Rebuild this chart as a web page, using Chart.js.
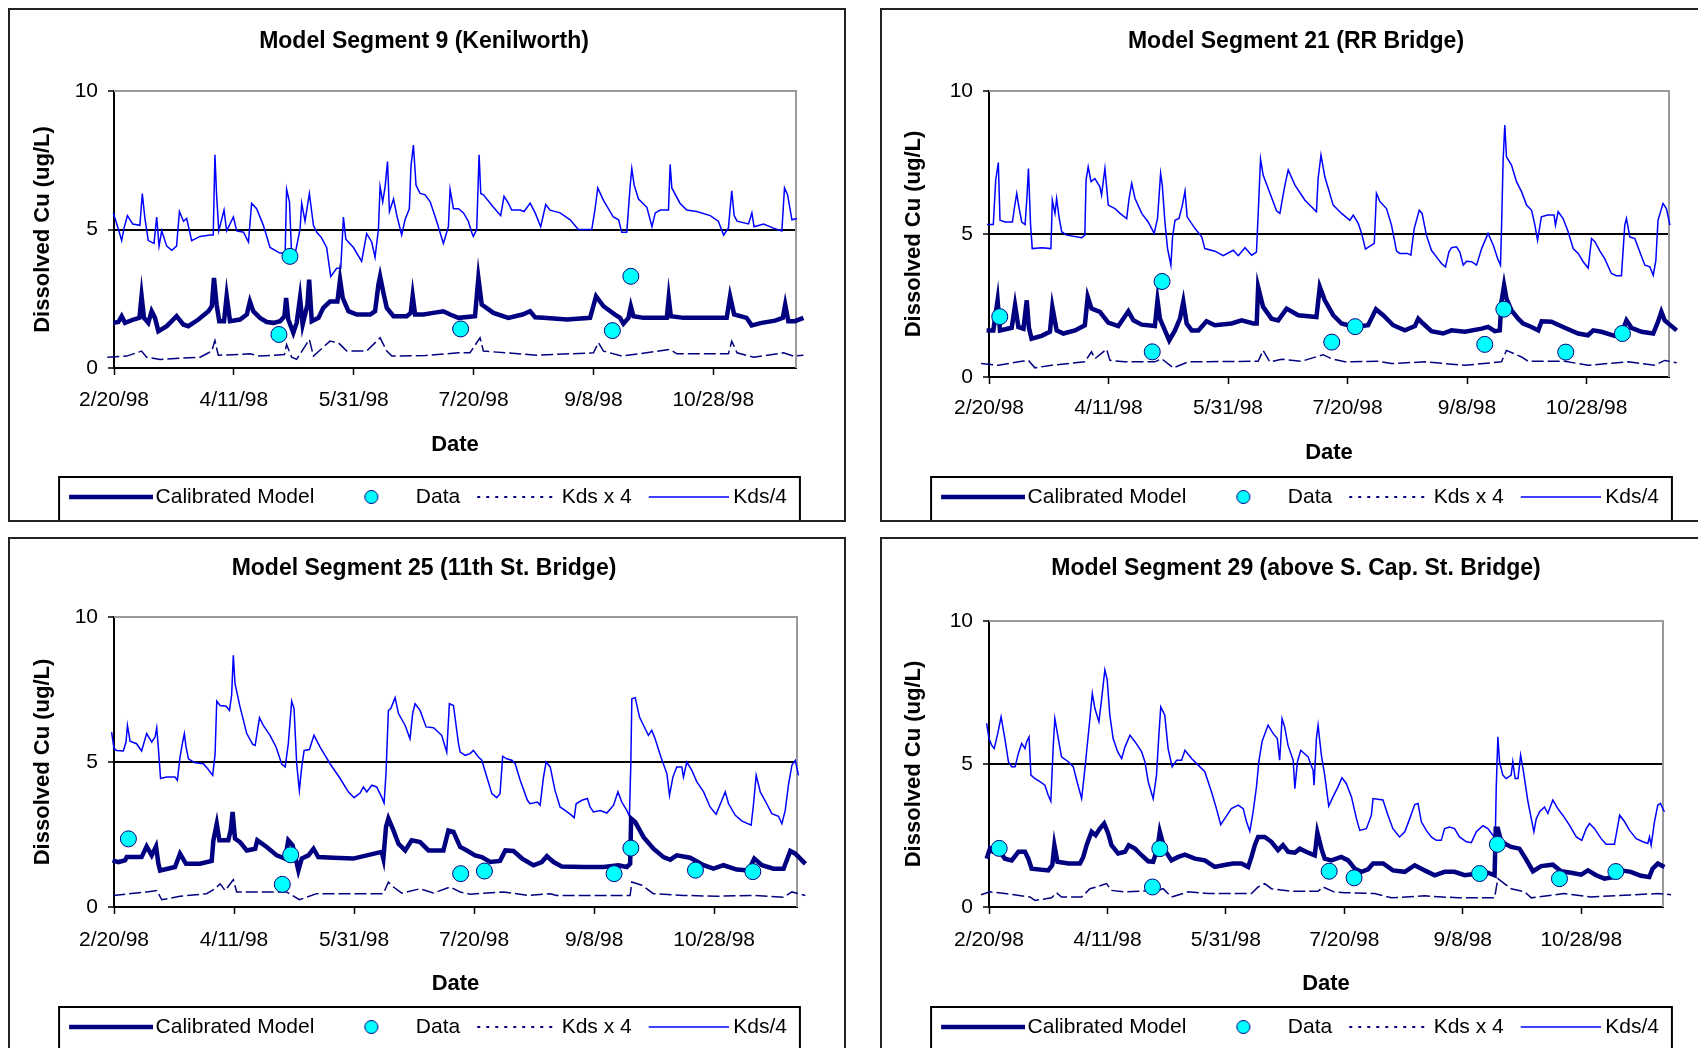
<!DOCTYPE html>
<html lang="en">
<head>
  <meta charset="UTF-8">
  <title>Dissolved Cu - Model Segments</title>
  <script src="https://cdn.jsdelivr.net/npm/chart.js"></script>
  <style>
    body { margin: 0; width: 1698px; height: 1048px; overflow: hidden; background: #fff; position: relative; }
    .panel { position: absolute; width: 838px; height: 514px; border: 2px solid #222; box-sizing: border-box; background: #fff; }
    canvas { display: block; }
  </style>
</head>
<body>
<div class="panel" style="left:8px;top:8px"><canvas id="c9" width="834" height="510"></canvas></div>
<div class="panel" style="left:880px;top:8px"><canvas id="c21" width="834" height="510"></canvas></div>
<div class="panel" style="left:8px;top:537px"><canvas id="c25" width="834" height="510"></canvas></div>
<div class="panel" style="left:880px;top:537px"><canvas id="c29" width="834" height="510"></canvas></div>

<script>
  // x = days after 2/20/98, y = dissolved Cu (ug/L)
  const tickDays = [0, 50, 100, 150, 200, 250];
  const tickLabels = ['2/20/98', '4/11/98', '5/31/98', '7/20/98', '9/8/98', '10/28/98'];

  // Segment 9 (Kenilworth)
  const seg9Data = [[68.8,1.21],[73.4,4.03],[144.6,1.41],[207.9,1.35],[215.6,3.31]];
  const seg9Model = [[-2.8,1.69],[-1.7,1.87],[-0.3,1.63],[1.8,1.66],[3.2,1.87],[4.6,1.63],[8.1,1.75],[10.6,1.81],[11.5,2.6],[12.5,1.81],[14.3,1.63],[15.7,2.05],[17.1,1.81],[18.5,1.33],[22.0,1.51],[26.1,1.87],[28.9,1.57],[31.0,1.51],[35.2,1.75],[39.4,2.05],[40.8,2.23],[41.7,3.25],[42.8,2.29],[43.9,1.69],[45.9,1.69],[47.0,2.6],[48.4,1.69],[52.6,1.75],[55.4,1.93],[56.7,2.4],[58.1,2.05],[60.9,1.81],[63.7,1.66],[66.5,1.63],[69.3,1.69],[71.1,1.87],[71.8,2.53],[72.7,1.75],[74.8,1.27],[76.2,1.63],[77.6,2.53],[78.7,1.57],[80.7,2.29],[81.4,3.19],[82.5,1.69],[85.3,1.81],[87.3,2.17],[90.1,2.4],[93.2,2.4],[94.3,3.19],[95.4,2.53],[97.8,2.05],[101.3,1.93],[106.9,1.93],[108.9,2.05],[110.3,3.01],[111.0,3.31],[112.4,2.71],[113.8,2.17],[116.6,1.87],[122.1,1.87],[123.8,1.99],[124.6,2.6],[125.6,1.93],[129.1,1.93],[133.2,1.99],[137.4,2.05],[140.2,1.93],[143.7,1.81],[150.6,1.87],[152.0,3.25],[153.4,2.29],[158.3,1.99],[164.5,1.81],[170.4,1.93],[173.6,2.05],[175.7,1.83],[179.2,1.81],[189.0,1.75],[198.6,1.81],[201.1,2.59],[204.2,2.23],[209.0,1.93],[211.1,1.81],[212.5,1.6],[214.6,1.81],[215.6,2.23],[216.7,1.87],[220.9,1.81],[230.6,1.81],[231.4,2.53],[232.3,1.87],[237.6,1.81],[255.6,1.81],[257.0,2.59],[258.7,1.93],[263.9,1.81],[266.0,1.54],[270.2,1.63],[275.8,1.71],[279.0,1.81],[280.0,2.29],[281.3,1.69],[284.1,1.69],[287.6,1.81]];
  const seg9KdsX4 = [[-2.8,0.39],[5.3,0.43],[11.5,0.61],[13.6,0.39],[19.2,0.31],[35.9,0.39],[40.8,0.61],[42.1,0.99],[43.5,0.46],[56.7,0.51],[60.9,0.43],[71.1,0.49],[72.0,0.85],[74.1,0.39],[76.2,0.31],[81.5,1.03],[83.2,0.43],[90.1,0.97],[93.6,0.91],[97.1,0.61],[105.4,0.61],[111.0,1.09],[113.8,0.61],[115.9,0.43],[130.0,0.45],[143.7,0.55],[148.5,0.55],[152.7,1.09],[154.1,0.61],[176.3,0.46],[200.0,0.55],[202.1,0.91],[204.2,0.61],[211.8,0.43],[232.0,0.67],[234.8,0.51],[256.3,0.51],[257.7,0.97],[259.9,0.55],[266.9,0.39],[279.3,0.55],[283.5,0.43],[287.6,0.46]];
  const seg9KdsDiv4 = [[-2.8,5.0],[-1.4,6.0],[-0.3,5.6],[0.8,5.3],[2.2,4.9],[3.2,4.6],[4.2,5.05],[5.6,5.5],[6.7,5.35],[7.8,5.2],[10.8,5.15],[11.8,6.3],[12.9,5.4],[14.3,4.6],[16.7,4.5],[17.8,5.45],[18.8,4.4],[19.9,4.95],[22.0,4.4],[24.1,4.25],[26.1,4.4],[27.3,5.65],[29.0,5.3],[30.3,5.4],[32.4,4.6],[35.9,4.75],[40.1,4.8],[41.4,4.8],[42.1,7.7],[42.8,6.25],[43.7,4.95],[45.9,5.7],[47.0,4.95],[49.8,5.45],[51.2,4.95],[54.0,4.9],[56.1,4.55],[57.4,5.95],[59.5,5.75],[62.3,5.15],[65.1,4.35],[69.2,4.15],[71.4,4.15],[72.0,6.45],[73.2,6.0],[74.1,4.1],[75.5,4.1],[77.6,5.0],[78.3,5.95],[79.7,5.3],[81.5,6.3],[83.2,5.15],[84.6,4.9],[86.6,4.7],[88.7,4.35],[90.4,3.3],[92.9,3.6],[94.6,3.6],[95.7,5.45],[96.7,4.65],[99.9,4.35],[103.3,3.85],[105.4,4.85],[107.5,4.55],[108.9,4.0],[110.3,5.0],[111.0,6.55],[112.1,6.0],[113.1,6.55],[114.1,7.45],[114.9,5.65],[116.6,6.1],[118.0,5.5],[120.0,4.8],[121.4,5.35],[123.2,5.75],[123.9,7.3],[124.9,8.05],[126.0,6.6],[127.7,6.3],[129.8,6.25],[131.9,6.0],[134.6,5.3],[137.4,4.5],[139.5,5.1],[140.2,6.45],[141.6,5.75],[143.7,5.75],[145.8,5.6],[147.8,5.3],[149.2,4.9],[149.9,4.75],[151.3,5.0],[152.3,7.7],[153.0,6.3],[154.1,6.25],[158.3,5.8],[161.3,5.5],[162.7,6.2],[164.5,5.95],[165.9,5.7],[169.4,5.7],[171.1,5.65],[173.6,5.95],[175.7,5.6],[178.0,5.1],[180.1,5.9],[181.9,5.7],[186.1,5.6],[190.3,5.35],[193.7,5.0],[199.3,5.0],[200.7,5.75],[201.8,6.5],[204.2,6.05],[208.3,5.45],[210.5,5.35],[211.8,4.9],[213.9,4.9],[215.3,6.55],[216.0,7.2],[217.0,6.6],[218.8,6.1],[222.3,5.8],[224.4,5.1],[225.8,5.6],[227.9,5.7],[231.3,5.7],[232.0,7.35],[232.7,6.5],[236.1,5.95],[238.9,5.7],[243.1,5.65],[248.7,5.5],[252.1,5.3],[254.3,4.8],[256.3,5.05],[257.7,6.4],[258.7,5.5],[259.9,5.3],[264.7,5.2],[266.1,5.6],[267.0,5.1],[271.0,5.2],[275.1,5.05],[278.6,4.95],[279.7,6.5],[281.0,6.25],[282.8,5.35],[284.9,5.4],[288.3,5.45]];

  // Segment 21 (RR Bridge)
  const seg21Data = [[4.5,2.11],[68.3,0.88],[72.4,3.34],[143.4,1.22],[153.2,1.76],[207.4,1.14],[215.4,2.37],[241.3,0.87],[265.0,1.52]];
  const seg21Model = [[-3.3,1.87],[-2.4,2.16],[-1.0,1.63],[1.8,1.63],[3.6,2.68],[4.6,1.63],[9.5,1.72],[10.9,2.51],[12.3,1.75],[14.4,1.69],[15.8,2.68],[16.7,1.72],[17.8,1.34],[22.0,1.44],[25.5,1.58],[26.5,2.45],[28.3,1.63],[31.1,1.52],[36.0,1.63],[40.1,1.81],[41.3,2.8],[42.9,2.39],[46.4,2.28],[49.9,1.9],[54.1,1.78],[56.2,2.04],[58.3,2.3],[60.4,1.98],[63.9,1.83],[69.4,1.78],[70.5,2.68],[71.5,2.04],[73.6,1.63],[75.4,1.28],[77.8,1.63],[79.9,2.04],[81.3,2.63],[82.7,1.87],[84.8,1.63],[87.6,1.63],[91.0,1.95],[94.5,1.81],[101.5,1.87],[105.7,1.98],[110.6,1.87],[112.0,1.87],[112.6,3.15],[114.7,2.45],[118.2,2.04],[121.0,1.98],[124.5,2.39],[129.4,2.16],[137.0,2.1],[138.4,3.15],[140.5,2.68],[144.0,2.16],[147.5,1.87],[153.0,1.75],[158.6,1.81],[161.9,2.37],[164.9,2.16],[169.1,1.81],[174.0,1.63],[178.2,1.78],[179.6,2.04],[181.6,1.87],[185.1,1.6],[190.0,1.52],[193.5,1.63],[199.1,1.58],[206.1,1.69],[208.8,1.75],[211.6,1.6],[213.7,1.63],[214.4,2.63],[215.5,3.21],[216.5,2.74],[218.6,2.33],[221.4,2.04],[223.5,1.87],[227.0,1.75],[229.8,1.63],[231.2,1.95],[235.3,1.93],[240.9,1.72],[246.5,1.52],[250.6,1.46],[252.8,1.63],[256.2,1.58],[261.8,1.44],[264.6,1.52],[266.7,1.98],[268.8,1.72],[273.0,1.58],[277.9,1.52],[279.9,1.93],[281.3,2.28],[282.7,1.98],[287.7,1.63]];
  const seg21KdsX4 = [[-3.3,0.47],[3.9,0.41],[13.7,0.55],[16.5,0.58],[19.2,0.32],[26.2,0.41],[40.1,0.53],[42.9,0.88],[44.3,0.64],[49.2,0.97],[50.6,0.58],[56.9,0.53],[69.4,0.53],[72.2,0.64],[77.1,0.32],[83.4,0.53],[112.6,0.55],[114.7,0.93],[117.5,0.53],[122.4,0.62],[130.8,0.55],[139.8,0.78],[143.3,0.64],[148.9,0.53],[162.9,0.55],[168.4,0.47],[182.4,0.53],[199.1,0.41],[214.4,0.53],[216.5,0.93],[222.8,0.7],[225.6,0.55],[240.9,0.55],[250.6,0.41],[267.4,0.53],[278.5,0.41],[282.7,0.58],[287.7,0.5]];
  const seg21KdsDiv4 = [[-3.3,5.33],[-2.4,5.33],[-1.7,6.36],[-0.8,5.33],[1.8,5.33],[2.8,6.88],[3.9,7.5],[4.6,5.48],[6.7,5.42],[9.8,5.42],[10.6,5.9],[11.6,6.42],[12.5,5.95],[13.7,5.42],[15.1,5.33],[15.8,6.18],[16.5,7.29],[17.4,5.31],[18.1,4.49],[22.0,4.52],[25.9,4.49],[26.5,6.18],[27.6,5.72],[28.3,6.24],[29.3,5.6],[30.4,5.08],[32.5,4.96],[38.8,4.87],[40.1,4.96],[40.6,6.88],[41.5,7.35],[42.7,6.83],[44.3,6.94],[46.4,6.65],[47.1,6.36],[48.5,7.29],[49.9,6.01],[52.7,5.89],[54.8,5.72],[57.6,5.54],[58.6,6.24],[59.7,6.77],[61.1,6.24],[63.9,5.72],[66.6,5.42],[69.1,5.02],[70.5,5.54],[71.8,7.12],[72.5,6.71],[73.6,5.42],[74.7,4.49],[76.1,3.91],[76.8,4.9],[77.8,5.48],[79.5,5.54],[80.9,6.01],[82.0,6.5],[82.9,5.6],[86.2,5.19],[89.0,4.9],[90.3,4.49],[94.5,4.4],[98.0,4.24],[102.2,4.43],[104.3,4.24],[107.1,4.52],[109.9,4.26],[111.9,4.37],[112.6,5.66],[113.6,7.62],[114.7,7.06],[116.8,6.59],[120.3,5.81],[121.7,5.72],[123.8,6.71],[125.2,7.24],[128.0,6.71],[132.2,6.18],[137.0,5.78],[137.7,6.94],[138.9,7.76],[140.5,7.0],[144.0,6.01],[147.5,5.72],[151.0,5.48],[152.4,5.66],[154.5,5.37],[155.9,5.02],[157.5,4.47],[161.2,4.67],[162.1,6.42],[163.6,6.13],[166.3,5.89],[168.4,5.31],[170.5,4.4],[171.9,4.32],[175.1,4.32],[176.5,4.26],[177.9,5.19],[180.0,5.83],[181.2,5.72],[183.0,4.96],[185.1,4.43],[187.2,4.2],[189.3,3.97],[191.0,3.85],[192.4,4.37],[193.5,4.52],[195.6,4.55],[197.0,4.37],[198.4,3.91],[199.8,4.05],[201.9,4.03],[204.0,3.91],[206.1,4.49],[208.8,5.02],[211.0,4.61],[212.8,4.14],[214.0,3.91],[214.4,5.1],[215.1,7.59],[215.8,8.81],[216.5,7.7],[218.6,7.41],[220.7,6.83],[222.8,6.48],[224.9,6.01],[227.0,5.83],[228.4,5.31],[229.5,4.78],[231.1,5.6],[233.7,5.66],[236.4,5.66],[237.0,5.31],[238.1,5.78],[240.2,5.54],[242.3,5.08],[244.4,4.49],[246.5,4.32],[248.6,4.03],[250.7,3.81],[252.1,4.84],[253.5,4.73],[255.6,4.4],[257.6,4.14],[260.4,3.62],[262.5,3.54],[264.6,3.54],[266.0,5.31],[266.7,5.54],[268.1,4.9],[270.2,4.84],[272.3,4.37],[274.4,3.91],[276.5,3.85],[277.9,3.56],[279.0,4.08],[279.9,5.48],[282.0,6.07],[283.4,5.89],[284.9,5.31],[287.7,4.55]];

  // Segment 25 (11th St. Bridge)
  const seg25Data = [[6.0,2.35],[70.1,0.78],[73.6,1.8],[144.4,1.15],[154.3,1.24],[208.3,1.15],[215.3,2.03],[242.2,1.27],[266.1,1.22]];
  const seg25Model = [[-2.8,1.95],[-1.9,2.13],[-0.6,1.61],[1.8,1.55],[4.6,1.61],[5.3,1.72],[11.5,1.72],[13.6,2.09],[15.7,1.78],[17.5,2.09],[18.5,1.49],[19.2,1.26],[25.4,1.38],[27.5,1.84],[30.0,1.49],[35.8,1.49],[40.7,1.59],[41.4,2.3],[42.8,2.87],[43.9,2.3],[47.6,2.3],[48.6,2.64],[49.4,3.28],[50.4,2.36],[52.5,2.24],[55.3,1.95],[58.8,2.01],[59.7,2.3],[63.6,2.07],[67.8,1.78],[71.3,1.67],[72.6,2.3],[74.4,2.13],[76.8,1.26],[78.2,1.67],[81.0,1.78],[83.1,2.01],[85.1,1.72],[91.4,1.7],[99.7,1.67],[105.3,1.78],[111.5,1.9],[112.2,1.67],[113.3,2.76],[114.3,3.05],[116.4,2.64],[118.5,2.18],[121.3,1.95],[124.0,2.3],[127.5,2.24],[131.0,1.95],[137.2,1.95],[139.3,2.64],[141.4,2.59],[144.2,2.07],[147.0,1.95],[150.4,1.78],[153.2,1.72],[156.7,1.55],[160.8,1.59],[163.0,1.95],[166.4,1.93],[170.0,1.67],[174.7,1.44],[178.2,1.55],[180.3,1.75],[183.1,1.55],[186.5,1.4],[195.6,1.38],[203.9,1.38],[210.1,1.44],[213.6,1.38],[215.0,1.49],[215.4,3.05],[217.1,2.93],[220.6,2.41],[224.7,2.01],[228.9,1.72],[231.7,1.63],[234.4,1.78],[240.0,1.7],[245.6,1.44],[249.7,1.32],[253.9,1.44],[259.4,1.29],[264.3,1.26],[266.7,1.67],[269.9,1.44],[274.7,1.32],[278.9,1.32],[281.7,1.93],[283.8,1.84],[288.0,1.49]];
  const seg25KdsX4 = [[-2.8,0.46],[-0.3,0.4],[13.6,0.52],[17.8,0.57],[19.9,0.25],[27.5,0.37],[38.6,0.46],[42.1,0.63],[44.2,0.8],[46.3,0.57],[49.7,0.94],[51.1,0.52],[71.9,0.52],[77.2,0.25],[84.4,0.46],[112.2,0.46],[114.3,0.86],[116.4,0.69],[119.9,0.48],[127.5,0.63],[133.1,0.48],[140.0,0.69],[144.2,0.52],[148.3,0.44],[162.2,0.52],[172.2,0.4],[181.7,0.46],[184.4,0.4],[215.0,0.4],[215.7,0.86],[219.9,0.75],[224.7,0.46],[237.2,0.4],[251.1,0.37],[266.4,0.4],[278.9,0.34],[282.4,0.52],[288.0,0.4]];
  const seg25KdsDiv4 = [[-2.8,5.17],[-1.9,5.8],[-1.0,6.03],[0,5.46],[1.1,5.4],[3.9,5.38],[5.0,5.69],[5.6,6.26],[6.7,5.72],[9.4,5.63],[11.5,5.38],[13.6,5.98],[15.7,5.69],[17.1,5.86],[17.8,6.18],[18.5,5.46],[19.4,4.43],[21.9,4.48],[25.4,4.48],[26.4,4.37],[27.5,5.17],[28.6,5.69],[29.3,5.98],[30.0,5.52],[31.0,5.11],[33.8,4.97],[37.2,4.94],[39.3,4.74],[41.1,4.54],[42.1,5.26],[42.8,7.1],[44.2,6.95],[46.7,6.92],[48.1,6.78],[49.0,7.3],[49.7,8.68],[50.4,7.7],[52.5,6.9],[55.3,5.98],[57.8,5.61],[58.8,5.57],[60.6,6.53],[62.2,6.26],[65.0,5.92],[67.5,5.52],[69.9,4.92],[71.3,4.83],[72.6,5.63],[74.0,7.1],[75.0,6.84],[76.1,4.94],[77.2,4.02],[78.2,4.83],[79.2,5.4],[81.4,5.43],[83.3,5.92],[85.8,5.52],[90.0,4.94],[94.2,4.43],[97.6,3.97],[100.0,3.77],[102.5,3.93],[103.9,4.14],[105.3,3.97],[107.4,4.2],[109.4,4.14],[111.5,3.79],[112.5,3.59],[113.3,4.6],[114.3,6.78],[115.3,6.84],[117.1,7.22],[118.5,6.67],[121.3,6.26],[123.3,5.8],[124.4,6.67],[125.4,7.01],[127.5,6.78],[130.0,6.21],[133.1,6.18],[136.5,5.92],[138.6,5.34],[139.7,7.01],[141.4,6.95],[143.5,5.63],[144.2,5.34],[146.3,5.23],[148.3,5.29],[149.7,5.4],[151.8,5.17],[153.2,5.06],[155.3,4.48],[157.4,3.91],[159.4,3.77],[160.8,3.91],[161.9,5.2],[163.6,5.11],[165.7,5.06],[167.1,4.94],[169.2,4.37],[172.2,3.68],[173.3,3.56],[176.4,3.62],[177.5,3.51],[178.9,4.48],[180.0,5.0],[181.7,4.83],[183.7,4.02],[185.8,3.45],[187.9,3.33],[190.0,3.2],[191.7,3.08],[192.5,3.56],[194.9,3.68],[197.2,3.74],[198.3,3.45],[199.7,3.28],[202.5,3.33],[205.3,3.24],[208.1,3.51],[209.9,3.97],[211.5,3.62],[213.6,3.33],[214.7,3.13],[215.3,5.0],[215.7,7.18],[217.1,7.22],[218.9,6.55],[220.6,6.26],[222.6,5.92],[224.0,6.09],[225.4,5.8],[227.8,5.17],[230.3,4.6],[231.4,3.85],[232.8,4.48],[234.4,4.83],[236.5,4.83],[237.2,4.48],[238.6,5.0],[240.7,4.71],[242.8,4.31],[245.6,3.97],[248.3,3.45],[250.8,3.2],[253.2,3.68],[254.6,3.97],[256.0,3.56],[258.8,3.16],[261.5,2.97],[265.4,2.82],[266.4,3.56],[267.5,4.54],[269.2,3.97],[271.9,3.56],[274.0,3.22],[276.8,3.13],[278.2,2.87],[279.6,3.33],[281.0,4.25],[282.4,4.89],[283.8,5.06],[285.1,4.54],[288.6,3.85]];

  // Segment 29 (above S. Cap. St. Bridge)
  const seg29Data = [[4.3,2.05],[69.0,0.7],[72.1,2.04],[143.6,1.25],[154.1,1.02],[207.1,1.17],[214.6,2.19],[240.8,0.99],[264.6,1.24]];
  const seg29Model = [[-3.4,1.58],[-2.0,2.1],[-1.0,1.69],[0.4,2.04],[1.8,1.93],[4.6,1.93],[6.7,1.69],[9.6,1.63],[12.4,1.93],[15.2,1.93],[16.6,1.69],[18.0,1.34],[25.0,1.28],[26.7,1.46],[27.6,2.16],[28.9,1.58],[33.5,1.52],[38.4,1.52],[39.8,1.75],[41.2,2.16],[43.3,2.63],[45.0,2.51],[46.8,2.74],[48.6,2.92],[50.3,2.57],[51.7,2.16],[54.5,1.87],[57.4,1.93],[59.0,2.16],[61.6,2.04],[64.4,1.81],[67.2,1.6],[69.3,1.58],[71.1,2.04],[72.1,2.63],[74.2,1.99],[77.0,1.63],[79.9,1.75],[82.7,1.83],[86.9,1.69],[91.1,1.63],[95.3,1.4],[98.8,1.46],[103.0,1.52],[106.6,1.52],[109.4,1.4],[110.8,1.75],[112.2,2.16],[113.6,2.45],[116.4,2.45],[119.2,2.28],[122.0,1.99],[124.1,2.16],[126.3,1.93],[129.1,1.9],[131.2,2.04],[134.7,1.9],[137.5,1.81],[138.6,2.6],[140.3,2.04],[141.7,1.69],[144.5,1.63],[148.7,1.75],[151.6,1.63],[154.4,1.34],[157.2,1.23],[160.0,1.32],[162.1,1.52],[166.4,1.52],[170.5,1.28],[175.5,1.23],[179.7,1.46],[183.9,1.28],[188.1,1.11],[192.3,1.23],[196.5,1.23],[200.8,1.11],[206.4,1.17],[210.6,1.2],[213.4,1.11],[213.9,2.74],[214.8,2.74],[216.2,2.28],[220.4,2.1],[223.9,2.04],[226.1,1.75],[229.6,1.25],[233.1,1.43],[238.0,1.48],[241.5,1.25],[245.7,1.2],[250.0,1.13],[252.8,1.28],[256.3,1.11],[259.8,0.99],[264.0,1.05],[266.8,1.28],[270.9,1.23],[275.2,1.09],[278.7,1.05],[280.1,1.34],[282.3,1.52],[285.1,1.4],[287.9,1.23]];
  const seg29KdsX4 = [[-3.4,0.43],[0.4,0.53],[6.7,0.47],[17.3,0.35],[19.4,0.23],[26.4,0.32],[28.5,0.5],[30.6,0.35],[39.1,0.35],[42.6,0.64],[45.4,0.7],[49.6,0.82],[51.7,0.58],[57.4,0.53],[71.4,0.58],[73.5,0.64],[77.0,0.35],[84.1,0.53],[92.5,0.47],[110.8,0.47],[113.6,0.7],[116.4,0.82],[119.2,0.64],[127.7,0.55],[138.9,0.55],[141.0,0.7],[145.6,0.53],[150.2,0.5],[162.8,0.47],[169.8,0.32],[183.9,0.39],[197.9,0.32],[213.4,0.32],[214.8,0.99],[220.4,0.64],[226.1,0.53],[228.9,0.32],[242.6,0.47],[253.9,0.35],[268.0,0.41],[282.3,0.47],[287.9,0.43]];
  const seg29KdsDiv4 = [[-3.4,4.32],[-2.4,4.32],[-1.7,5.84],[-1.0,6.42],[0,5.89],[1.1,5.66],[2.2,5.54],[3.7,6.07],[5.1,6.65],[6.7,5.89],[8.2,5.08],[9.6,4.9],[11.0,4.9],[12.4,5.37],[13.8,5.72],[15.2,5.54],[15.9,5.78],[16.9,5.95],[17.7,4.61],[19.4,4.49],[21.5,4.38],[23.6,4.26],[25.0,3.91],[26.1,3.7],[27.1,5.6],[27.8,6.59],[29.0,6.01],[30.6,5.25],[33.5,5.08],[35.6,4.9],[37.0,4.43],[39.1,3.79],[40.2,4.61],[41.2,5.43],[42.6,6.59],[43.6,7.47],[44.7,6.94],[46.4,6.48],[47.5,7.24],[48.9,8.29],[49.9,7.94],[51.0,6.71],[52.4,5.89],[54.3,5.43],[56.0,5.19],[57.4,5.6],[59.5,6.01],[61.6,5.78],[64.4,5.43],[65.8,5.08],[67.2,4.38],[69.3,3.79],[70.7,4.61],[71.7,6.01],[72.5,7.0],[74.2,6.71],[75.6,5.54],[77.3,4.9],[79.2,5.13],[81.3,5.13],[82.7,5.48],[85.5,5.19],[88.3,4.96],[91.1,4.73],[93.9,4.03],[96.0,3.44],[97.8,2.88],[99.5,3.09],[102.3,3.44],[105.2,3.56],[107.3,3.44],[108.7,2.98],[110.1,2.65],[111.5,3.33],[112.9,4.2],[113.9,5.08],[115.3,5.8],[117.8,6.36],[119.9,6.07],[121.7,5.89],[122.7,5.13],[123.7,6.59],[124.8,6.3],[126.2,5.66],[128.4,5.13],[129.1,4.14],[130.2,5.08],[131.6,5.48],[134.7,5.25],[136.8,4.78],[137.2,4.26],[138.2,5.89],[138.9,6.36],[140.3,5.31],[141.7,4.61],[143.4,3.53],[145.2,3.85],[147.3,4.2],[149.0,4.52],[150.8,4.32],[153.0,3.85],[155.1,3.09],[156.5,2.68],[159.3,2.74],[161.4,3.21],[162.1,3.79],[164.2,3.77],[166.3,3.74],[168.4,3.21],[170.5,2.74],[173.3,2.45],[175.5,2.63],[177.6,3.09],[179.7,3.58],[181.1,3.62],[182.5,2.98],[184.6,2.68],[186.7,2.45],[188.8,2.33],[190.9,2.33],[192.3,2.74],[194.4,2.8],[196.5,2.74],[198.6,2.45],[201.5,2.28],[203.6,2.25],[205.7,2.63],[208.5,2.84],[210.6,2.74],[212.7,2.51],[213.7,2.39],[214.1,4.14],[214.8,5.95],[215.5,5.08],[216.9,4.61],[218.3,4.49],[220.4,4.61],[221.1,5.08],[222.1,4.49],[223.3,4.49],[224.4,5.31],[225.6,4.73],[227.5,3.68],[228.9,3.09],[230.0,2.63],[231.0,3.09],[232.4,3.33],[234.5,3.5],[235.9,3.27],[238.0,3.74],[240.1,3.44],[242.2,3.21],[245.0,2.86],[247.9,2.45],[250.2,2.33],[252.1,2.74],[253.5,2.92],[255.6,2.74],[258.4,2.39],[260.5,2.19],[264.0,2.19],[265.2,2.74],[266.2,3.21],[268.3,2.98],[270.4,2.68],[273.2,2.39],[276.0,2.28],[278.1,2.22],[278.8,2.45],[279.5,2.16],[280.9,2.98],[282.3,3.56],[283.4,3.62],[285.1,3.33],[286.5,3.04],[287.9,2.74]];

  const NAVY = '#000080';
  const BLUE = '#0000FF';
  const CYAN = '#00FFFF';
  const W = 834, H = 510;
  const TITLE_SIZE = 23, AXIS_TITLE_SIZE = 22, TICK_SIZE = 21, LEGEND_SIZE = 21, LEGEND_PAD = 7;
  const X_TICK_LEN = 7;
  const PAD_RIGHT = 6;

  Chart.defaults.font.family = "'Liberation Sans', Arial, sans-serif";
  Chart.defaults.color = '#000';

  const toXY = pairs => pairs.map(([x, y]) => ({ x, y }));

  function swatch(w, h, draw) {
    const c = document.createElement('canvas');
    c.width = w; c.height = h;
    draw(c.getContext('2d'));
    return c;
  }
  // swatches are drawn centred on the 84px legend box; the extra left margin
  // pushes the mark towards its label, as in the original legend
  const modelSwatch = swatch(100, 8, g => {
    g.strokeStyle = NAVY; g.lineWidth = 4.5;
    g.beginPath(); g.moveTo(16, 4); g.lineTo(100, 4); g.stroke();
  });
  const dataSwatch = swatch(34, 18, g => {
    g.fillStyle = CYAN; g.strokeStyle = NAVY; g.lineWidth = 1;
    g.beginPath(); g.arc(25, 9, 6.5, 0, Math.PI * 2); g.fill(); g.stroke();
  });
  const kdsX4Swatch = swatch(96, 6, g => {
    g.strokeStyle = NAVY; g.lineWidth = 2; g.setLineDash([3, 6]);
    g.beginPath(); g.moveTo(16, 3); g.lineTo(96, 3); g.stroke();
  });
  const kdsDiv4Swatch = swatch(96, 6, g => {
    g.strokeStyle = BLUE; g.lineWidth = 1.5;
    g.beginPath(); g.moveTo(16, 3); g.lineTo(96, 3); g.stroke();
  });

  const legendItems = [
    { text: 'Calibrated Model', pointStyle: modelSwatch },
    { text: 'Data', pointStyle: dataSwatch },
    { text: 'Kds x 4', pointStyle: kdsX4Swatch },
    { text: 'Kds/4', pointStyle: kdsDiv4Swatch }
  ].map((it, i) => ({ ...it, fontColor: '#000', fillStyle: '#000', strokeStyle: '#000', lineWidth: 0, hidden: false, datasetIndex: i }));

  // gray top/right edge of the plot area
  const plotFrame = {
    id: 'plotFrame',
    beforeDatasetsDraw(chart) {
      const { ctx, chartArea: a } = chart;
      ctx.save();
      ctx.strokeStyle = '#9a9a9a';
      ctx.lineWidth = 2;
      ctx.beginPath();
      ctx.moveTo(a.left, a.top);
      ctx.lineTo(a.right, a.top);
      ctx.lineTo(a.right, a.bottom);
      ctx.stroke();
      ctx.restore();
    }
  };

  // box round the legend row
  const legendFrame = {
    id: 'legendFrame',
    afterDraw(chart) {
      const boxes = chart.legend && chart.legend.legendHitBoxes;
      if (!boxes || !boxes.length) return;
      const first = boxes[0], last = boxes[boxes.length - 1];
      const cy = first.top + first.height / 2;
      const left = first.left - 2;
      const right = last.left + last.width + 13;
      const ctx = chart.ctx;
      ctx.save();
      ctx.strokeStyle = '#000';
      ctx.lineWidth = 2;
      ctx.strokeRect(left, cy - 20, right - left, 44);
      ctx.restore();
    }
  };

  function makeChart(p) {
    const L = p.layout;
    const titleLH = TITLE_SIZE * 1.2;
    const titlePadTop = L.titleY - titleLH / 2;
    const titlePadBottom = L.plotTop - titlePadTop - titleLH;
    const legendH = LEGEND_SIZE + LEGEND_PAD + 10;
    const legendTop = L.legendY - LEGEND_PAD - LEGEND_SIZE / 2;
    const padBottom = H - legendTop - legendH;
    const xAxisH = legendTop - L.plotBottom;
    const tickPad = L.tickY - L.plotBottom - X_TICK_LEN - TICK_SIZE * 1.2 / 2;
    const datePadBottom = legendTop - L.dateY - AXIS_TITLE_SIZE * 1.2 / 2;
    const yTitlePadTop = L.yTitleX - AXIS_TITLE_SIZE * 1.2 / 2;

    return new Chart(document.getElementById(p.id), {
      type: 'line',
      data: {
        datasets: [
          {
            label: 'Data',
            data: toXY(p.data),
            showLine: false,
            pointRadius: 8,
            pointBackgroundColor: CYAN,
            pointBorderColor: NAVY,
            pointBorderWidth: 1
          },
          {
            label: 'Calibrated Model',
            data: toXY(p.model),
            borderColor: NAVY,
            borderWidth: 4.5,
            pointRadius: 0,
            clip: 10
          },
          {
            label: 'Kds x 4',
            data: toXY(p.kdsX4),
            borderColor: NAVY,
            borderWidth: 1.5,
            borderDash: [12, 4],
            pointRadius: 0,
            clip: 10
          },
          {
            label: 'Kds/4',
            data: toXY(p.kdsDiv4),
            borderColor: BLUE,
            borderWidth: 1.5,
            pointRadius: 0,
            clip: 10
          }
        ]
      },
      options: {
        responsive: false,
        animation: false,
        events: [],
        layout: { padding: { top: 0, left: 0, right: PAD_RIGHT, bottom: padBottom } },
        scales: {
          x: {
            type: 'linear',
            min: 0,
            max: 284.5,
            afterBuildTicks: s => { s.ticks = tickDays.map(v => ({ value: v })); },
            afterFit: s => { s.height = xAxisH; },
            ticks: {
              autoSkip: false,
              maxRotation: 0,
              padding: tickPad,
              font: { size: TICK_SIZE },
              callback: (v, i) => tickLabels[i]
            },
            grid: { drawOnChartArea: false, tickLength: X_TICK_LEN, tickColor: '#000', tickWidth: 1.5 },
            border: { color: '#000', width: 2 },
            title: {
              display: true,
              text: 'Date',
              font: { size: AXIS_TITLE_SIZE, weight: 'bold' },
              padding: { top: 0, bottom: datePadBottom }
            }
          },
          y: {
            min: 0,
            max: 10,
            afterFit: s => { s.width = L.plotLeft; },
            ticks: { stepSize: 5, padding: 10, font: { size: TICK_SIZE } },
            grid: {
              color: c => (c.tick && c.tick.value === 5 ? '#000' : 'rgba(0,0,0,0)'),
              lineWidth: 2,
              tickLength: 6,
              tickColor: '#000',
              tickWidth: 1.5
            },
            border: { color: '#000', width: 2 },
            title: {
              display: true,
              text: 'Dissolved Cu (ug/L)',
              font: { size: AXIS_TITLE_SIZE, weight: 'bold' },
              padding: { top: yTitlePadTop, bottom: 0 }
            }
          },
          y2: {
            position: 'right',
            afterFit: s => { s.width = W - PAD_RIGHT - L.plotRight; },
            ticks: { display: false },
            grid: { display: false, drawTicks: false },
            border: { display: false }
          }
        },
        plugins: {
          tooltip: { enabled: false },
          title: {
            display: true,
            text: p.title,
            font: { size: TITLE_SIZE, weight: 'bold' },
            padding: { top: titlePadTop, bottom: titlePadBottom }
          },
          legend: {
            position: 'bottom',
            labels: {
              usePointStyle: true,
              pointStyleWidth: 84,
              padding: LEGEND_PAD,
              font: { size: LEGEND_SIZE },
              generateLabels: () => legendItems
            }
          }
        }
      },
      plugins: [plotFrame, legendFrame]
    });
  }

  const panels = [
    { id: 'c9', title: 'Model Segment 9 (Kenilworth)', data: seg9Data, model: seg9Model, kdsX4: seg9KdsX4, kdsDiv4: seg9KdsDiv4,
      layout: { plotLeft: 104, plotRight: 786, plotTop: 81, plotBottom: 358, titleY: 32, tickY: 390, dateY: 435, legendY: 487, yTitleX: 33 } },
    { id: 'c21', title: 'Model Segment 21 (RR Bridge)', data: seg21Data, model: seg21Model, kdsX4: seg21KdsX4, kdsDiv4: seg21KdsDiv4,
      layout: { plotLeft: 107, plotRight: 787, plotTop: 81, plotBottom: 367, titleY: 32, tickY: 398, dateY: 443, legendY: 487, yTitleX: 32 } },
    { id: 'c25', title: 'Model Segment 25 (11th St. Bridge)', data: seg25Data, model: seg25Model, kdsX4: seg25KdsX4, kdsDiv4: seg25KdsDiv4,
      layout: { plotLeft: 104, plotRight: 787, plotTop: 78, plotBottom: 368, titleY: 30, tickY: 401, dateY: 445, legendY: 488, yTitleX: 33 } },
    { id: 'c29', title: 'Model Segment 29 (above S. Cap. St. Bridge)', data: seg29Data, model: seg29Model, kdsX4: seg29KdsX4, kdsDiv4: seg29KdsDiv4,
      layout: { plotLeft: 107, plotRight: 781, plotTop: 82, plotBottom: 368, titleY: 30, tickY: 401, dateY: 445, legendY: 488, yTitleX: 32 } }
  ];

  panels.forEach(makeChart);
</script>
</body>
</html>
